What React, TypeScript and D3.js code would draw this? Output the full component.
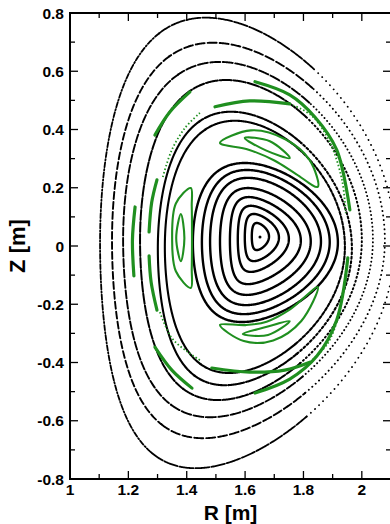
import React, { useEffect } from "react";
import * as d3 from "d3";

// ---------- data (R, Z in metres) ----------
// Black flux surfaces, outermost first: inboard / outboard midplane R, top / bottom Z, R of top / bottom point
const surfRin = [1.103, 1.144, 1.182, 1.240, 1.301, 1.325, 1.421, 1.452, 1.480, 1.514, 1.548, 1.575, 1.599, 1.623];
const surfRout = [2.113, 2.079, 2.038, 2.000, 1.966, 1.942, 1.918, 1.890, 1.860, 1.825, 1.791, 1.750, 1.716, 1.682];
const surfZtop = [0.784, 0.698, 0.632, 0.570, 0.461, 0.430, 0.285, 0.261, 0.234, 0.199, 0.168, 0.138, 0.110, 0.079];
const surfZbot = [-0.763, -0.660, -0.588, -0.529, -0.478, -0.436, -0.261, -0.234, -0.203, -0.168, -0.131, -0.089, -0.052, -0.014];
const surfRtop = [1.465, 1.490, 1.512, 1.535, 1.552, 1.565, 1.599, 1.606, 1.610, 1.610, 1.613, 1.620, 1.630, 1.640];
const surfRbot = [1.430, 1.456, 1.480, 1.507, 1.530, 1.545, 1.589, 1.596, 1.603, 1.606, 1.610, 1.620, 1.630, 1.640];
const magAxis: [number, number] = [1.651, 0.031];

// Green island loops: spine points [R, Z] and half-width (m)
const islandSpines: [number, number][][] = [
  [[1.414, 0.199], [1.390, 0.141], [1.384, 0.027], [1.390, -0.082], [1.414, -0.144]],
  [[1.380, 0.110], [1.378, 0.027], [1.380, -0.052]],
  [[1.514, 0.354], [1.616, 0.364], [1.719, 0.330], [1.798, 0.271], [1.849, 0.203]],
  [[1.599, 0.371], [1.678, 0.344], [1.753, 0.302]],
  [[1.514, -0.271], [1.599, -0.299], [1.685, -0.292], [1.774, -0.237], [1.849, -0.141]],
  [[1.592, -0.302], [1.675, -0.292], [1.753, -0.258]],
];
const islandHalfWidth = [0.034, 0.014, 0.041, 0.017, 0.034, 0.014];

// Thin green island strands (narrow islands seen as thick arcs): spine points [R, Z]
const strandSpines: [number, number][][] = [
  [[1.298, 0.227], [1.280, 0.150], [1.271, 0.048]],
  [[1.271, -0.034], [1.278, -0.124], [1.298, -0.220]],
  [[1.497, 0.478], [1.616, 0.498], [1.753, 0.488]],
  [[1.486, -0.419], [1.616, -0.433], [1.736, -0.426], [1.822, -0.399]],
  [[1.223, 0.134], [1.214, 0.021], [1.219, -0.103]],
  [[1.291, 0.381], [1.342, 0.460], [1.411, 0.529]],
  [[1.634, 0.564], [1.753, 0.519], [1.839, 0.443], [1.914, 0.330], [1.959, 0.124]],
  [[1.634, -0.505], [1.753, -0.457], [1.846, -0.378], [1.914, -0.254], [1.952, -0.041]],
  [[1.291, -0.347], [1.349, -0.426], [1.418, -0.488]],
];

// Green chaotic (dotted) traces
const greenTraces: [number, number][][] = [
  [[1.318, 0.237], [1.349, 0.330], [1.394, 0.405], [1.445, 0.457]],
  [[1.753, 0.488], [1.829, 0.447], [1.890, 0.357], [1.932, 0.227], [1.945, 0.113]],
  [[1.308, -0.227], [1.349, -0.316], [1.404, -0.364], [1.445, -0.392]],
  [[1.822, -0.399], [1.884, -0.333], [1.925, -0.220], [1.945, -0.089]],
];

// Axes
const xMajor = [1, 1.2, 1.4, 1.6, 1.8, 2];
const xTickLabels = ["1", "1.2", "1.4", "1.6", "1.8", "2"];
const xMinor = [1.1, 1.3, 1.5, 1.7, 1.9, 2.1];
const yMajor = [-0.8, -0.6, -0.4, -0.2, 0, 0.2, 0.4, 0.6, 0.8];
const yTickLabels = ["-0.8", "-0.6", "-0.4", "-0.2", "0", "0.2", "0.4", "0.6", "0.8"];
const yMinor = [-0.7, -0.5, -0.3, -0.1, 0.1, 0.3, 0.5, 0.7];

const GREEN = "#1f8f1f";
const FONT = "'Liberation Sans', Arial, Helvetica, sans-serif";

// dash styles for the outer (dotted) surfaces: inboard, top/bottom, outboard
const outerStyles = [
  { inb: "5 2 1.2 2", tb: "14 2", out: "0.1 5.5", w: 1.8 },
  { inb: "7 3", tb: "9 3", out: "0.1 4.5", w: 1.9 },
  { inb: "8 2.5", tb: "10 2.5", out: "0.1 3.8", w: 1.9 },
  { inb: "10 2", tb: "12 2", out: "1 3", w: 2.0 },
  { inb: "none", tb: "16 2", out: "2 2.5", w: 2.1 },
  { inb: "none", tb: "none", out: "3 2", w: 2.1 },
];

export default function App() {
  useEffect(() => {
    document.body.style.margin = "0";
  }, []);

  const W = 390, H = 524;
  const left = 70, top = 13, right = 391, bottom = 479;
  const x = d3.scaleLinear().domain([1, 2.1]).range([left, right]);
  const y = d3.scaleLinear().domain([-0.8, 0.8]).range([bottom, top]);

  const line = d3.line<[number, number]>();
  const PI = Math.PI;

  const surfAt = (i: number) => {
    const R0 = (surfRin[i] + surfRout[i]) / 2;
    const a = (surfRout[i] - surfRin[i]) / 2;
    const Z0 = (surfZtop[i] + surfZbot[i]) / 2;
    const ka = (surfZtop[i] - surfZbot[i]) / 2;
    const du = Math.asin(Math.max(-0.95, Math.min(0.95, (R0 - surfRtop[i]) / a)));
    const dl = Math.asin(Math.max(-0.95, Math.min(0.95, (R0 - surfRbot[i]) / a)));
    return (t: number): [number, number] => {
      const s = Math.sin(t);
      const d = s >= 0 ? du : dl;
      return [x(R0 + a * Math.cos(t + d * s)), y(Z0 + ka * s)];
    };
  };
  const band = (f: (t: number) => [number, number], t0: number, t1: number, n = 160) =>
    d3.range(0, n + 1).map((k) => f(t0 + ((t1 - t0) * k) / n));

  const surfaces = surfRin.map((_, i) => {
    const f = surfAt(i);
    if (i >= outerStyles.length) {
      return (
        <path key={i} d={line(band(f, 0, 2 * PI, 480)) + "Z"} fill="none" stroke="#000" strokeWidth={2.4} />
      );
    }
    const st = outerStyles[i];
    const common = { fill: "none", stroke: "#000", strokeWidth: st.w, strokeLinecap: "round" as const };
    return (
      <g key={i}>
        <path d={line(band(f, -0.28 * PI, 0.28 * PI)) || ""} {...common} strokeDasharray={st.out} />
        <path d={line(band(f, 0.28 * PI, 0.62 * PI)) || ""} {...common} strokeDasharray={st.tb} />
        <path d={line(band(f, 0.62 * PI, 1.38 * PI)) || ""} {...common} strokeDasharray={st.inb} />
        <path d={line(band(f, 1.38 * PI, 1.72 * PI)) || ""} {...common} strokeDasharray={st.tb} />
      </g>
    );
  });

  const closedCurve = d3.line<[number, number]>().curve(d3.curveCatmullRomClosed.alpha(0.5));
  const openCurve = d3.line<[number, number]>().curve(d3.curveCatmullRom.alpha(0.5));

  const islands = islandSpines.map((sp, k) => {
    const P = sp.map(([r, z]) => [x(r), y(z)] as [number, number]);
    const hw = x(1 + islandHalfWidth[k]) - x(1);
    const n = P.length;
    const L: [number, number][] = [];
    const Rr: [number, number][] = [];
    for (let i = 1; i < n - 1; i++) {
      const dx = P[i + 1][0] - P[i - 1][0];
      const dy = P[i + 1][1] - P[i - 1][1];
      const len = Math.hypot(dx, dy) || 1;
      const nx = -dy / len, ny = dx / len;
      const prof = Math.pow(Math.sin((PI * i) / (n - 1)), 0.6);
      L.push([P[i][0] + nx * hw * prof, P[i][1] + ny * hw * prof]);
      Rr.push([P[i][0] - nx * hw * prof, P[i][1] - ny * hw * prof]);
    }
    const outline = [P[0], ...L, P[n - 1], ...Rr.reverse()];
    return <path key={k} d={closedCurve(outline) || ""} fill="none" stroke={GREEN} strokeWidth={2.1} />;
  });

  const strands = strandSpines.map((sp, k) => (
    <path
      key={k}
      d={openCurve(sp.map(([r, z]) => [x(r), y(z)] as [number, number])) || ""}
      fill="none"
      stroke={GREEN}
      strokeWidth={3.2}
      strokeLinecap="round"
    />
  ));

  const traces = greenTraces.map((tr, k) => (
    <path
      key={k}
      d={openCurve(tr.map(([r, z]) => [x(r), y(z)] as [number, number])) || ""}
      fill="none"
      stroke={GREEN}
      strokeWidth={1.8}
      strokeDasharray="1.5 2.2"
    />
  ));

  const tickMajor = 8, tickMinor = 5;

  return (
    <svg width={W} height={H} style={{ position: "absolute", left: 0, top: 0, background: "#fff" }}>
      <rect x={0} y={0} width={W} height={H} fill="#fff" />
      <defs>
        <clipPath id="plotClip">
          <rect x={left} y={top} width={right - left} height={bottom - top} />
        </clipPath>
      </defs>
      <g clipPath="url(#plotClip)">
        {surfaces}
        {islands}
        {strands}
        {traces}
        <circle cx={x(magAxis[0])} cy={y(magAxis[1])} r={1.5} fill="#000" />
      </g>

      {/* frame */}
      <rect x={left} y={top} width={right - left} height={bottom - top} fill="none" stroke="#000" strokeWidth={2} />

      {/* ticks */}
      <g stroke="#000" strokeWidth={1.3}>
        {xMajor.map((v) => (
          <g key={"xM" + v}>
            <line x1={x(v)} x2={x(v)} y1={bottom} y2={bottom - tickMajor} />
            <line x1={x(v)} x2={x(v)} y1={top} y2={top + tickMajor} />
          </g>
        ))}
        {xMinor.map((v) => (
          <g key={"xm" + v}>
            <line x1={x(v)} x2={x(v)} y1={bottom} y2={bottom - tickMinor} />
            <line x1={x(v)} x2={x(v)} y1={top} y2={top + tickMinor} />
          </g>
        ))}
        {yMajor.map((v) => (
          <g key={"yM" + v}>
            <line x1={left} x2={left + tickMajor} y1={y(v)} y2={y(v)} />
            <line x1={right} x2={right - tickMajor} y1={y(v)} y2={y(v)} />
          </g>
        ))}
        {yMinor.map((v) => (
          <g key={"ym" + v}>
            <line x1={left} x2={left + tickMinor} y1={y(v)} y2={y(v)} />
            <line x1={right} x2={right - tickMinor} y1={y(v)} y2={y(v)} />
          </g>
        ))}
      </g>

      {/* tick labels */}
      <g fontFamily={FONT} fontWeight="bold" fontSize={15.5} fill="#000">
        {xMajor.map((v, i) => (
          <text key={"xl" + v} x={x(v)} y={495} textAnchor="middle">
            {xTickLabels[i]}
          </text>
        ))}
        {yMajor.map((v, i) => (
          <text key={"yl" + v} x={64} y={y(v) + 5.5} textAnchor="end">
            {yTickLabels[i]}
          </text>
        ))}
      </g>

      {/* axis titles */}
      <text x={(left + right) / 2} y={520} textAnchor="middle" fontFamily={FONT} fontWeight="bold" fontSize={21}>
        R [m]
      </text>
      <text
        transform={`translate(25, ${(top + bottom) / 2}) rotate(-90)`}
        textAnchor="middle"
        fontFamily={FONT}
        fontWeight="bold"
        fontSize={22}
      >
        Z [m]
      </text>
    </svg>
  );
}
